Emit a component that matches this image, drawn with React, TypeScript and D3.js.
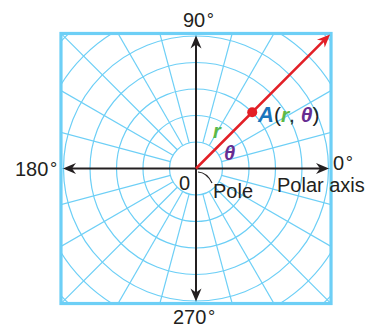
import React from "react";
import * as d3 from "d3";

const ringUnits = [1, 2, 3, 4, 5, 6, 7];
const spokeAngles = [0, 15, 30, 45, 60, 75, 90, 105, 120, 135, 150, 165, 180, 195, 210, 225, 240, 255, 270, 285, 300, 315, 330, 345];
const axisLabels = [
  { text: "0", angle: 0 },
  { text: "90", angle: 90 },
  { text: "180", angle: 180 },
  { text: "270", angle: 270 },
];
const pointR = [3];
const pointTheta = [45];

const W = 372;
const H = 329;
const CX = 196;
const CY = 168.5;
const BOX_UNITS = 5.095;
const GRID = "#6dcff6";
const INK = "#231f20";
const FONT = "'Liberation Sans', Arial, sans-serif";

export default function App() {
  const r = d3.scaleLinear().domain([0, 1]).range([0, 26.5]);
  const half = r(BOX_UNITS);
  const x0 = CX - half, x1 = CX + half, y0 = CY - half, y1 = CY + half;
  const toXY = (u: number, deg: number): [number, number] => {
    const a = (deg * Math.PI) / 180;
    return [CX + r(u) * Math.cos(a), CY - r(u) * Math.sin(a)];
  };
  const arrowHead = (tx: number, ty: number, deg: number, color: string) => {
    const a = (deg * Math.PI) / 180;
    const ux = Math.cos(a), uy = -Math.sin(a);
    const px = -uy, py = ux;
    const L = 13, Wd = 5.5, N = 9;
    const p = [
      [tx, ty],
      [tx - ux * L + px * Wd, ty - uy * L + py * Wd],
      [tx - ux * N, ty - uy * N],
      [tx - ux * L - px * Wd, ty - uy * L - py * Wd],
    ];
    return <path d={`M${p.map((q) => q.join(",")).join("L")}Z`} fill={color} />;
  };
  const labelPos: Record<string, [number, number]> = {
    "0": [333, 169.5],
    "90": [183, 27],
    "180": [15, 176],
    "270": [173, 324],
  };
  const [px, py] = toXY(pointR[0], pointTheta[0]);
  const redTip: [number, number] = [x1 - 1, y0 + 1];
  const axisEnd = half - 2;
  return (
    <svg width={W} height={H} style={{ position: "absolute", left: 0, top: 0, background: "#fff" }}>
      <defs>
        <clipPath id="box">
          <rect x={x0} y={y0} width={x1 - x0} height={y1 - y0} />
        </clipPath>
      </defs>
      <g clipPath="url(#box)" stroke={GRID} strokeWidth={1.2} fill="none">
        {ringUnits.map((u) => (
          <circle key={u} cx={CX} cy={CY} r={r(u)} />
        ))}
        {spokeAngles.map((a) => {
          const [sx, sy] = toXY(1, a);
          const [ex, ey] = toXY(9, a);
          return <line key={a} x1={sx} y1={sy} x2={ex} y2={ey} />;
        })}
      </g>
      <rect x={x0} y={y0} width={x1 - x0} height={y1 - y0} fill="none" stroke={GRID} strokeWidth={3.2} />
      <g stroke={INK} strokeWidth={2}>
        <line x1={CX - axisEnd + 8} y1={CY} x2={CX + axisEnd - 8} y2={CY} />
        <line x1={CX} y1={CY - axisEnd + 8} x2={CX} y2={CY + axisEnd - 8} />
      </g>
      {arrowHead(CX + axisEnd, CY, 0, INK)}
      {arrowHead(CX - axisEnd, CY, 180, INK)}
      {arrowHead(CX, CY - axisEnd, 90, INK)}
      {arrowHead(CX, CY + axisEnd, 270, INK)}
      <line x1={CX} y1={CY} x2={redTip[0] - 6} y2={redTip[1] + 6} stroke="#e31f26" strokeWidth={2.5} />
      {arrowHead(redTip[0], redTip[1], 45, "#e31f26")}
      <circle cx={px} cy={py} r={5} fill="#e31f26" />
      <path d={`M${CX + 2},${CY + 3.5} Q${CX + 11},${CY + 4} ${CX + 16},${CY + 14.5}`} fill="none" stroke={INK} strokeWidth={1.2} />
      <g fontFamily={FONT} fontSize={20} fill={INK}>
        {axisLabels.map((l) => (
          <text key={l.text} x={labelPos[l.text][0]} y={labelPos[l.text][1]}>
            {l.text}
            <tspan dx={1.5} fontSize={18} dy={-1}>°</tspan>
          </text>
        ))}
        <text x={179} y={190}>0</text>
        <text x={213} y={198}>Pole</text>
        <text x={277} y={192}>Polar axis</text>
        <text x={213} y={138} fill="#5cb946" fontWeight="bold" fontStyle="italic">r</text>
        <text x={224} y={160} fill="#662d91" fontWeight="bold" fontStyle="italic">θ</text>
        <text x={258} y={122} fontSize={21}>
          <tspan fill="#1b75bc" fontWeight="bold" fontStyle="italic" fontSize={22}>A</tspan>
          <tspan>(</tspan>
          <tspan fill="#5cb946" fontWeight="bold" fontStyle="italic">r</tspan>
          <tspan>, </tspan>
          <tspan fill="#662d91" fontWeight="bold" fontStyle="italic">θ</tspan>
          <tspan>)</tspan>
        </text>
      </g>
    </svg>
  );
}
